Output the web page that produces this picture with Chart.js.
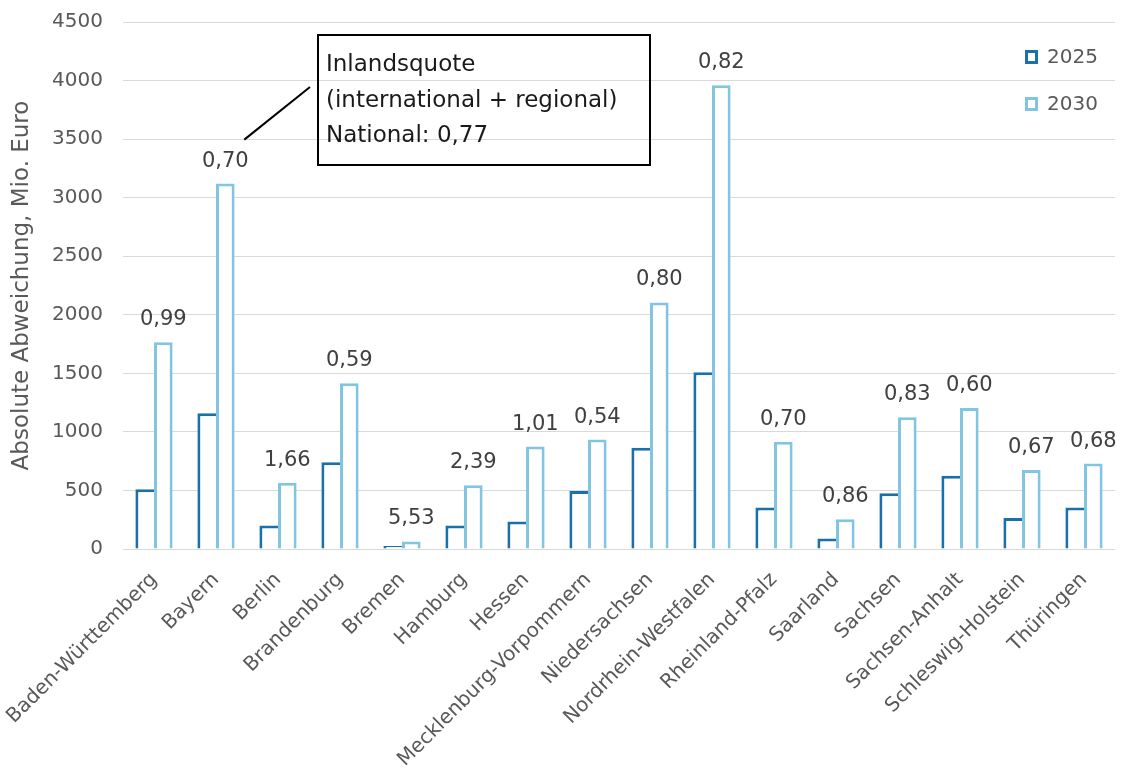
<!DOCTYPE html>
<html>
<head>
<meta charset="utf-8">
<script src="https://cdn.jsdelivr.net/npm/chart.js@4.4.1/dist/chart.umd.min.js"></script>
<style>
  html, body { margin: 0; padding: 0; background: #fff; }
  #wrap { width: 1125px; height: 769px; position: relative; }
</style>
</head>
<body>
<div id="wrap"><canvas id="c"></canvas></div>
<script>
const categories = ["Baden-Württemberg", "Bayern", "Berlin", "Brandenburg", "Bremen", "Hamburg", "Hessen",
  "Mecklenburg-Vorpommern", "Niedersachsen", "Nordrhein-Westfalen", "Rheinland-Pfalz", "Saarland",
  "Sachsen", "Sachsen-Anhalt", "Schleswig-Holstein", "Thüringen"];
const values2025 = [510, 1160, 200, 740, 25, 200, 235, 495, 865, 1510, 355, 90, 475, 625, 265, 355];
const values2030 = [1765, 3120, 565, 1415, 65, 545, 875, 935, 2105, 3960, 915, 255, 1125, 1205, 675, 730];
const quoteLabels = ["0,99", "0,70", "1,66", "0,59", "5,53", "2,39", "1,01", "0,54", "0,80", "0,82",
  "0,70", "0,86", "0,83", "0,60", "0,67", "0,68"];
const seriesNames = ["2025", "2030"];
const yTitle = "Absolute Abweichung, Mio. Euro";
const calloutLines = ["Inlandsquote", "(international + regional)", "National: 0,77"];

const FONT = "'DejaVu Sans', sans-serif";
const C2025 = "#1A70AB";
const C2030 = "#82C5E1";
const TXT = "#595959";

const labelPlugin = {
  id: "quoteLabels",
  afterDatasetsDraw(chart) {
    const ctx = chart.ctx;
    const meta = chart.getDatasetMeta(1);
    ctx.save();
    ctx.font = "21px " + FONT;
    ctx.fillStyle = "#404040";
    ctx.textAlign = "center";
    ctx.textBaseline = "alphabetic";
    meta.data.forEach((bar, i) => {
      ctx.fillText(quoteLabels[i], bar.x, bar.y - 17);
    });
    ctx.restore();
  }
};

const legendPlugin = {
  id: "customLegend",
  afterDraw(chart) {
    const ctx = chart.ctx;
    const area = chart.chartArea;
    ctx.save();
    ctx.font = "20px " + FONT;
    ctx.textBaseline = "middle";
    ctx.textAlign = "left";
    chart.data.datasets.forEach((ds, i) => {
      const x = area.right - 90;
      const y = area.top + 35 + i * 47;
      ctx.fillStyle = "#fff";
      ctx.fillRect(x, y - 7, 13, 14);
      ctx.strokeStyle = ds.borderColor;
      ctx.lineWidth = 3;
      ctx.strokeRect(x + 1.5, y - 5.5, 10, 11);
      ctx.fillStyle = TXT;
      ctx.fillText(ds.label, x + 22, y + 1);
    });
    ctx.restore();
  }
};

const calloutPlugin = {
  id: "callout",
  afterDraw(chart) {
    const ctx = chart.ctx;
    const bar = chart.getDatasetMeta(1).data[1];
    const ax = bar.x + 19, ay = bar.y - 44;
    ctx.save();
    ctx.strokeStyle = "#000";
    ctx.lineWidth = 2;
    ctx.beginPath();
    ctx.moveTo(ax, ay);
    ctx.lineTo(310, 87);
    ctx.stroke();
    ctx.strokeRect(318, 35, 332, 130);
    ctx.fillStyle = "#1a1a1a";
    ctx.font = "23px " + FONT;
    ctx.textAlign = "left";
    ctx.textBaseline = "alphabetic";
    const baselines = [71, 107, 142];
    calloutLines.forEach((t, i) => ctx.fillText(t, 326, baselines[i]));
    ctx.restore();
  }
};

new Chart(document.getElementById("c"), {
  type: "bar",
  data: {
    labels: categories,
    datasets: [
      {
        label: seriesNames[0],
        data: values2025,
        backgroundColor: "#ffffff",
        borderColor: C2025,
        borderWidth: { top: 3, left: 3, right: 0, bottom: 0 },
        borderSkipped: false,
        categoryPercentage: 0.6,
        barPercentage: 1.0
      },
      {
        label: seriesNames[1],
        data: values2030,
        backgroundColor: "#ffffff",
        borderColor: C2030,
        borderWidth: { top: 3, left: 3, right: 3, bottom: 0 },
        borderSkipped: false,
        categoryPercentage: 0.6,
        barPercentage: 1.0
      }
    ]
  },
  options: {
    responsive: true,
    maintainAspectRatio: false,
    animation: false,
    layout: { padding: { top: 22, right: 10, left: 0, bottom: 0 } },
    plugins: {
      legend: { display: false },
      tooltip: { enabled: false }
    },
    scales: {
      x: {
        grid: { display: false, drawTicks: true, tickLength: 16 },
        border: { display: false },
        ticks: {
          color: TXT,
          font: { family: FONT, size: 20 },
          maxRotation: 45,
          minRotation: 45,
          autoSkip: false,
          padding: 3
        },
        afterFit(scale) { scale.height = 220; }
      },
      y: {
        min: 0,
        max: 4500,
        grid: { color: "#d9d9d9", lineWidth: 1, drawTicks: true, tickLength: 20, tickColor: "rgba(0,0,0,0)" },
        border: { display: false },
        ticks: {
          stepSize: 500,
          color: TXT,
          font: { family: FONT, size: 20 },
          padding: 0,
          callback: (v) => String(v)
        },
        title: {
          display: true,
          text: yTitle,
          color: TXT,
          font: { family: FONT, size: 23 },
          padding: { top: 8, bottom: 0 }
        },
        afterFit(scale) { scale.width = 123; }
      }
    }
  },
  plugins: [labelPlugin, legendPlugin, calloutPlugin]
});
</script>
</body>
</html>
